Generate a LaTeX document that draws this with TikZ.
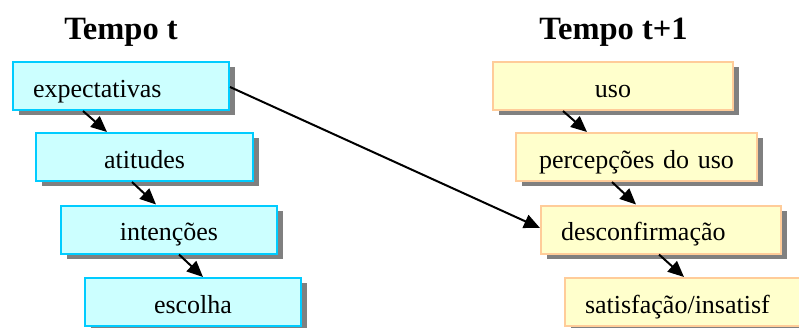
\documentclass[tikz,border=0pt]{standalone}
\usepackage{fontspec}
\setmainfont{Liberation Serif}
\usetikzlibrary{arrows.meta,shadows,calc}
\definecolor{cyanfill}{HTML}{CCFFFF}
\definecolor{cyanline}{HTML}{00CCFF}
\definecolor{creamfill}{HTML}{FFFFCC}
\definecolor{peachline}{HTML}{FFCC99}
\definecolor{shade}{HTML}{808080}
\tikzset{
  box/.style={draw, line width=2pt, minimum height=48pt, inner ysep=0pt,
    text height=35pt, text depth=13pt, font=\fontsize{26}{30}\selectfont,
    drop shadow={shadow xshift=5.5pt, shadow yshift=-5pt, fill=shade, opacity=1}},
  before/.style={box, draw=cyanline, fill=cyanfill},
  after/.style={box, draw=peachline, fill=creamfill},
  cbox/.style={text width=#1, inner xsep=0pt, align=center},
  lbox/.style={text width=#1-40pt, inner xsep=20pt, align=left},
  heading/.style={font=\fontsize{32.5}{36}\selectfont\bfseries, inner sep=0pt, anchor=base},
  arr/.style={line width=2pt, -{Triangle[length=16pt,width=14pt]}}
}
\begin{document}
\begin{tikzpicture}[x=1pt,y=-1pt]
\useasboundingbox (0,0) rectangle (799,327);
\clip (0,0) rectangle (799,327);
\fill[white] (0,0) rectangle (799,327);

% column headings
\node[heading] (h0) at (121,39) {Tempo t};
\node[heading] (h1) at (613.5,39) {Tempo t+1};

% time t
\node[before, lbox=216pt] (exp) at (121,86) {expectativas};
\node[before, cbox=217pt] (ati) at (144.5,157) {atitudes};
\node[before, cbox=216pt] (int) at (169,229.5) {intenções};
\node[before, cbox=216pt] (esc) at (193,302) {escolha};

% time t+1
\node[after, cbox=240pt] (uso) at (613,86) {uso};
\node[after, cbox=241pt] (per) at (636.5,157) {percepções do uso};
\node[after, lbox=240pt] (des) at (661,229.5) {desconfirmação};
\node[after, lbox=240pt] (sat) at (685,302) {satisfação/insatisf};

% chains
\draw[arr] ($(exp.south west)+(71pt,0)$) -- ($(ati.north west)+(72pt,0)$);
\draw[arr] ($(ati.south west)+(97pt,0)$) -- ($(int.north west)+(96pt,0)$);
\draw[arr] ($(int.south west)+(119pt,0)$) -- ($(esc.north west)+(119pt,0)$);
\draw[arr] ($(uso.south west)+(71pt,0)$) -- ($(per.north west)+(72pt,0)$);
\draw[arr] ($(per.south west)+(97pt,0)$) -- ($(des.north west)+(96pt,0)$);
\draw[arr] ($(des.south west)+(119pt,0)$) -- ($(sat.north west)+(120pt,0)$);

% expectations feed disconfirmation
\draw[arr] ($(exp.east)+(0,-1pt)$) -- ($(des.west)+(0,1.5pt)$);
\end{tikzpicture}
\end{document}
